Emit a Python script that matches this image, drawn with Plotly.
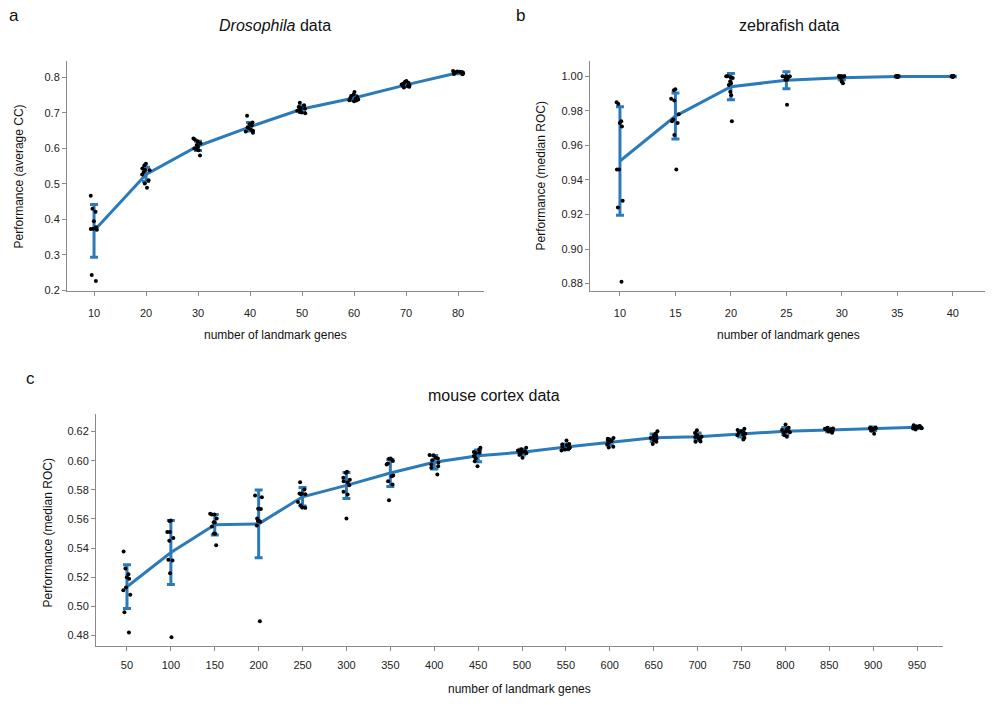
import plotly.graph_objects as go

BLUE = "#2b7bba"
FONT = "Liberation Sans, Arial, sans-serif"

# ---------------- data ----------------
# panel a: Drosophila
a_genes = [10, 20, 30, 40, 50, 60, 70, 80]
a_points = [
    [0.467, 0.430, 0.422, 0.395, 0.378, 0.374, 0.373, 0.371, 0.244, 0.227],
    [0.5525, 0.557, 0.5433, 0.5386, 0.534, 0.5265, 0.5106, 0.5014, 0.4894, 0.540],
    [0.628, 0.625, 0.620, 0.615, 0.610, 0.605, 0.600, 0.598, 0.595, 0.580],
    [0.692, 0.673, 0.668, 0.665, 0.660, 0.657, 0.653, 0.650, 0.648, 0.644],
    [0.729, 0.722, 0.717, 0.714, 0.712, 0.709, 0.706, 0.703, 0.701, 0.699],
    [0.759, 0.752, 0.748, 0.745, 0.742, 0.740, 0.738, 0.736, 0.735, 0.733],
    [0.790, 0.787, 0.785, 0.782, 0.780, 0.778, 0.776, 0.774, 0.772, 0.776],
    [0.818, 0.817, 0.816, 0.815, 0.814, 0.813, 0.812, 0.811, 0.810, 0.809],
]
a_mean = [0.368, 0.527, 0.607, 0.661, 0.711, 0.742, 0.779, 0.8132]
a_err = [0.074, 0.020, 0.013, 0.012, 0.009, 0.007, 0.005, 0.003]
a_yticks = [0.2, 0.3, 0.4, 0.5, 0.6, 0.7, 0.8]

# panel b: zebrafish
b_genes = [10, 15, 20, 25, 30, 35, 40]
b_points = [
    [0.985, 0.984, 0.974, 0.973, 0.971, 0.946, 0.946, 0.928, 0.924, 0.881],
    [0.9925, 0.992, 0.987, 0.986, 0.978, 0.975, 0.974, 0.973, 0.966, 0.946],
    [1.000, 1.000, 0.9995, 0.999, 0.997, 0.996, 0.995, 0.991, 0.989, 0.974],
    [1.000, 1.000, 1.000, 0.9995, 0.9995, 0.999, 0.999, 0.998, 0.998, 0.9835],
    [1.000, 1.000, 1.000, 1.000, 0.9998, 0.9995, 0.9995, 0.999, 0.997, 0.996],
    [1.000, 1.000, 1.000, 1.000, 1.000, 0.9998, 0.9998, 0.9997, 0.9999, 1.000],
    [1.000, 1.000, 1.000, 1.000, 1.000, 0.9999, 0.9999, 0.9998, 0.9999, 1.000],
]
b_mean = [0.951, 0.977, 0.994, 0.9977, 0.9992, 0.9999, 0.9999]
b_err = [0.0314, 0.0133, 0.0076, 0.0049, 0.0012, 0.0002, 0.0001]
b_yticks = [0.88, 0.90, 0.92, 0.94, 0.96, 0.98, 1.00]

# panel c: mouse cortex
c_genes = [50, 100, 150, 200, 250, 300, 350, 400, 450, 500,
           550, 600, 650, 700, 750, 800, 850, 900, 950]
c_points = [
    [0.5376, 0.526, 0.522, 0.520, 0.519, 0.513, 0.511, 0.508, 0.496, 0.482],
    [0.559, 0.5585, 0.551, 0.551, 0.547, 0.545, 0.532, 0.5315, 0.5227, 0.4788],
    [0.563, 0.5635, 0.563, 0.5603, 0.5577, 0.5548, 0.5498, 0.550, 0.542, 0.5575],
    [0.576, 0.5749, 0.567, 0.5669, 0.5603, 0.5585, 0.5585, 0.558, 0.5555, 0.4898],
    [0.5852, 0.5802, 0.5774, 0.5774, 0.577, 0.577, 0.5717, 0.5694, 0.5678, 0.5676],
    [0.5923, 0.5917, 0.5882, 0.5868, 0.5859, 0.5831, 0.5786, 0.5768, 0.5603, 0.585],
    [0.6013, 0.6015, 0.598, 0.5973, 0.5893, 0.5898, 0.5859, 0.5836, 0.5728, 0.5998],
    [0.6037, 0.6038, 0.6015, 0.6003, 0.5985, 0.5973, 0.5962, 0.5951, 0.5905, 0.602],
    [0.6088, 0.6076, 0.6054, 0.6052, 0.6026, 0.6032, 0.5996, 0.5962, 0.6015, 0.606],
    [0.6088, 0.6078, 0.607, 0.6065, 0.606, 0.6055, 0.605, 0.6045, 0.604, 0.602],
    [0.6138, 0.6115, 0.611, 0.6105, 0.6095, 0.609, 0.608, 0.6076, 0.607, 0.6085],
    [0.6155, 0.615, 0.6145, 0.614, 0.6135, 0.613, 0.612, 0.611, 0.6095, 0.609],
    [0.6202, 0.6184, 0.6175, 0.617, 0.616, 0.6155, 0.615, 0.614, 0.613, 0.6115],
    [0.6209, 0.619, 0.6175, 0.6168, 0.6165, 0.616, 0.6155, 0.615, 0.6132, 0.6129],
    [0.6219, 0.621, 0.6202, 0.6195, 0.619, 0.6184, 0.618, 0.6175, 0.6157, 0.6145],
    [0.6248, 0.6225, 0.6215, 0.621, 0.6205, 0.620, 0.6195, 0.619, 0.6175, 0.6164],
    [0.6225, 0.622, 0.6218, 0.6215, 0.6213, 0.621, 0.6208, 0.6205, 0.620, 0.6192],
    [0.6228, 0.6226, 0.6224, 0.6222, 0.622, 0.6218, 0.6215, 0.621, 0.6205, 0.6185],
    [0.6243, 0.6238, 0.6235, 0.6232, 0.623, 0.6228, 0.6225, 0.6222, 0.622, 0.6214],
]
c_mean = [0.5135, 0.537, 0.556, 0.5566, 0.5752, 0.583, 0.5915, 0.5989, 0.6033, 0.6058,
          0.6094, 0.6127, 0.6157, 0.6164, 0.6185, 0.6202, 0.6211, 0.6218, 0.6229]
c_err = [0.015, 0.022, 0.007, 0.0233, 0.0063, 0.0089, 0.0093, 0.0046, 0.004, 0.002,
         0.002, 0.002, 0.0025, 0.0025, 0.0022, 0.0025, 0.0012, 0.0012, 0.0009]
c_yticks = [0.48, 0.50, 0.52, 0.54, 0.56, 0.58, 0.60, 0.62]

# ---------------- figure ----------------
W, H = 996, 705


def px_x(p):
    return p / W


def px_y(p):
    return 1 - p / H


panels = [
    # genes, points, mean, err, yticks, ytickformat, xdomain px, ydomain px, xrange, yrange, boxwidth, jitter, standoff
    (a_genes, a_points, a_mean, a_err, a_yticks, ".1f", (67, 484), (293, 62), [4.8, 85.0], [0.2, 0.845], 5, 0.4, 8),
    (b_genes, b_points, b_mean, b_err, b_yticks, ".2f", (590, 985), (293, 62), [7.3, 42.9], [0.876, 1.0086], 2.5, 0.36, 8),
    (c_genes, c_points, c_mean, c_err, c_yticks, ".2f", (96, 943), (652, 418), [14.7, 979.6], [0.4725, 0.6317], 25, 0.45, 4),
]

fig = go.Figure()
layout = {}
for i, (genes, pts, mean, err, yt, yfmt, xd, yd, xr, yr, bw, jit, so) in enumerate(panels):
    n = i + 1
    xa = "x" if n == 1 else f"x{n}"
    ya = "y" if n == 1 else f"y{n}"
    on = n + 3
    xo, yo = f"x{on}", f"y{on}"

    fig.add_trace(go.Scatter(
        x=genes, y=mean, mode="lines", xaxis=xa, yaxis=ya,
        line=dict(color=BLUE, width=3),
        error_y=dict(type="data", array=err, color=BLUE, thickness=3, width=4),
        showlegend=False, hoverinfo="skip"))

    xs, ys = [], []
    for g, vals in zip(genes, pts):
        xs += [g] * len(vals)
        ys += vals
    fig.add_trace(go.Box(
        x=xs, y=ys, xaxis=xo, yaxis=yo, boxpoints="all", jitter=jit, pointpos=0,
        width=bw, fillcolor="rgba(0,0,0,0)", line=dict(width=0, color="rgba(0,0,0,0)"),
        marker=dict(color="black", size=4), showlegend=False, hoverinfo="y"))

    axis_common = dict(showline=True, linecolor="#8a8a8a", linewidth=1, ticks="outside",
                       ticklen=4, tickcolor="#8a8a8a", showgrid=False, zeroline=False,
                       tickfont=dict(family=FONT, size=11, color="#222"))
    xkey = "xaxis" if n == 1 else f"xaxis{n}"
    ykey = "yaxis" if n == 1 else f"yaxis{n}"
    layout[xkey] = dict(domain=[px_x(xd[0]), px_x(xd[1])], anchor=ya, range=xr,
                        tickvals=genes, ticklabelstandoff=so, **axis_common)
    layout[ykey] = dict(domain=[px_y(yd[0]), px_y(yd[1])], anchor=xa, range=yr,
                        tickvals=yt, tickformat=yfmt, **axis_common)
    layout[f"xaxis{on}"] = dict(overlaying=xa, anchor=yo, range=xr, visible=False)
    layout[f"yaxis{on}"] = dict(overlaying=ya, anchor=xo, range=yr, visible=False)

annots = []


def ann(text, xp, yp, size, angle=0, xanchor="center"):
    annots.append(dict(text=text, x=px_x(xp), y=px_y(yp), xref="paper", yref="paper",
                       showarrow=False, textangle=angle, xanchor=xanchor, yanchor="middle",
                       font=dict(family=FONT, size=size, color="#111")))


# titles
ann("<i>Drosophila</i> data", 275, 26, 16)
ann("zebrafish data", 789, 26, 16)
ann("mouse cortex data", 494, 399, 16)
# panel letters
ann("a", 14, 16, 17)
ann("b", 520, 16, 17)
ann("c", 30, 382, 17)
# axis titles
ann("number of landmark genes", 275, 338, 12)
ann("number of landmark genes", 788, 338, 12)
ann("number of landmark genes", 519, 695, 12)
ann("Performance (average CC)", 19, 178, 12, angle=-90)
ann("Performance (median ROC)", 541, 178, 12, angle=-90)
ann("Performance (median ROC)", 48, 538, 12, angle=-90)

fig.update_layout(
    width=W, height=H, margin=dict(l=0, r=0, t=0, b=0),
    paper_bgcolor="white", plot_bgcolor="white",
    font=dict(family=FONT, size=11, color="#222"),
    showlegend=False, annotations=annots, **layout)

fig.write_html("out.html")
